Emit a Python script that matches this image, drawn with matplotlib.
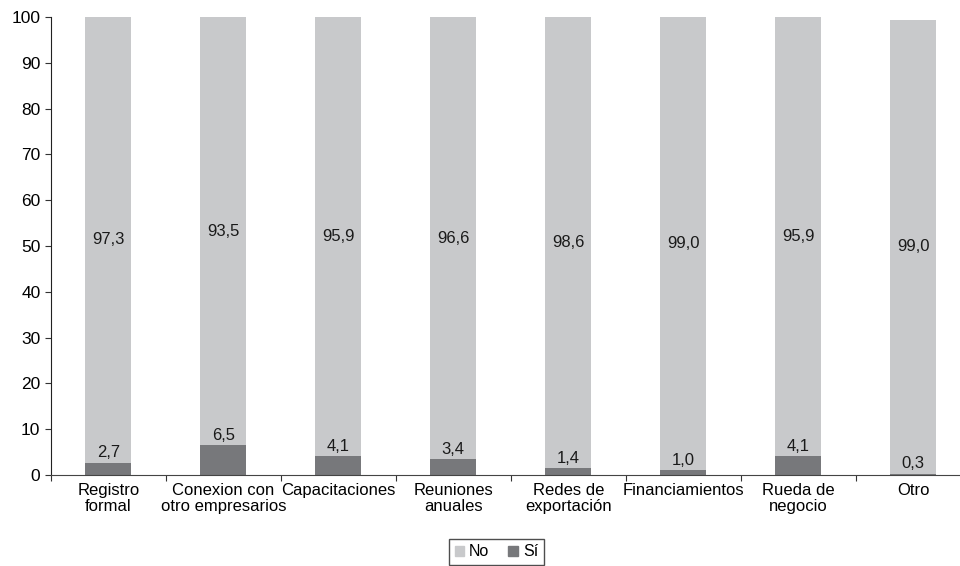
import numpy as np
import matplotlib.pyplot as plt
from matplotlib.patches import Patch

plt.rcParams['font.family'] = ['Liberation Sans', 'DejaVu Sans']

categorias = ['Registro\nformal', 'Conexion con\notro empresarios', 'Capacitaciones',
              'Reuniones\nanuales', 'Redes de\nexportación', 'Financiamientos',
              'Rueda de\nnegocio', 'Otro']
si = [2.7, 6.5, 4.1, 3.4, 1.4, 1.0, 4.1, 0.3]
no = [97.3, 93.5, 95.9, 96.6, 98.6, 99.0, 95.9, 99.0]

c_no = '#c8c9cb'
c_si = '#77787b'

fig = plt.figure(figsize=(9.6, 5.66), dpi=100)
ax = fig.add_axes([0.053, 0.161, 0.958, 0.809])

x = np.arange(len(categorias))
ax.bar(x, si, width=0.4, color=c_si, edgecolor='none')
ax.bar(x, no, width=0.4, bottom=si, color=c_no, edgecolor='none')

for i in range(len(x)):
    ax.annotate(f'{si[i]:.1f}'.replace('.', ','), (x[i], si[i]), xytext=(0, 1.5),
                textcoords='offset points', ha='center', va='bottom', fontsize=12, color='#1a1a1a')
    ax.text(x[i], si[i] + no[i] / 2, f'{no[i]:.1f}'.replace('.', ','),
            ha='center', va='center', fontsize=12, color='#1a1a1a')

ax.set_xlim(-0.5, len(x) - 0.5)
ax.set_ylim(0, 100)
ax.set_yticks(range(0, 101, 10))
ax.set_xticks(np.arange(-0.5, len(x), 1.0))
ax.set_xticklabels([])
ax.set_xticks(x, minor=True)
ax.set_xticklabels(categorias, minor=True, fontsize=12, linespacing=1.05)
ax.tick_params(axis='x', which='minor', length=0, pad=6)
ax.tick_params(axis='x', which='major', length=4, color='#333333')
ax.tick_params(axis='y', labelsize=12.5, length=4, color='#333333')
ax.spines['top'].set_visible(False)
ax.spines['right'].set_visible(False)
ax.spines['left'].set_color('#222222')
ax.spines['bottom'].set_color('#444444')

handles = [Patch(color=c_no, label='No'), Patch(color=c_si, label='Sí')]
leg = fig.legend(handles=handles, loc='upper center', bbox_to_anchor=(0.517, 0.048),
                 ncol=2, fontsize=11.5, frameon=True, fancybox=False, borderaxespad=0,
                 handlelength=0.6, handleheight=0.6, handletextpad=0.3, columnspacing=1.2,
                 borderpad=0.35)
leg.get_frame().set_edgecolor('#222222')
leg.get_frame().set_linewidth(1.0)

plt.savefig('out.png', dpi=100)
